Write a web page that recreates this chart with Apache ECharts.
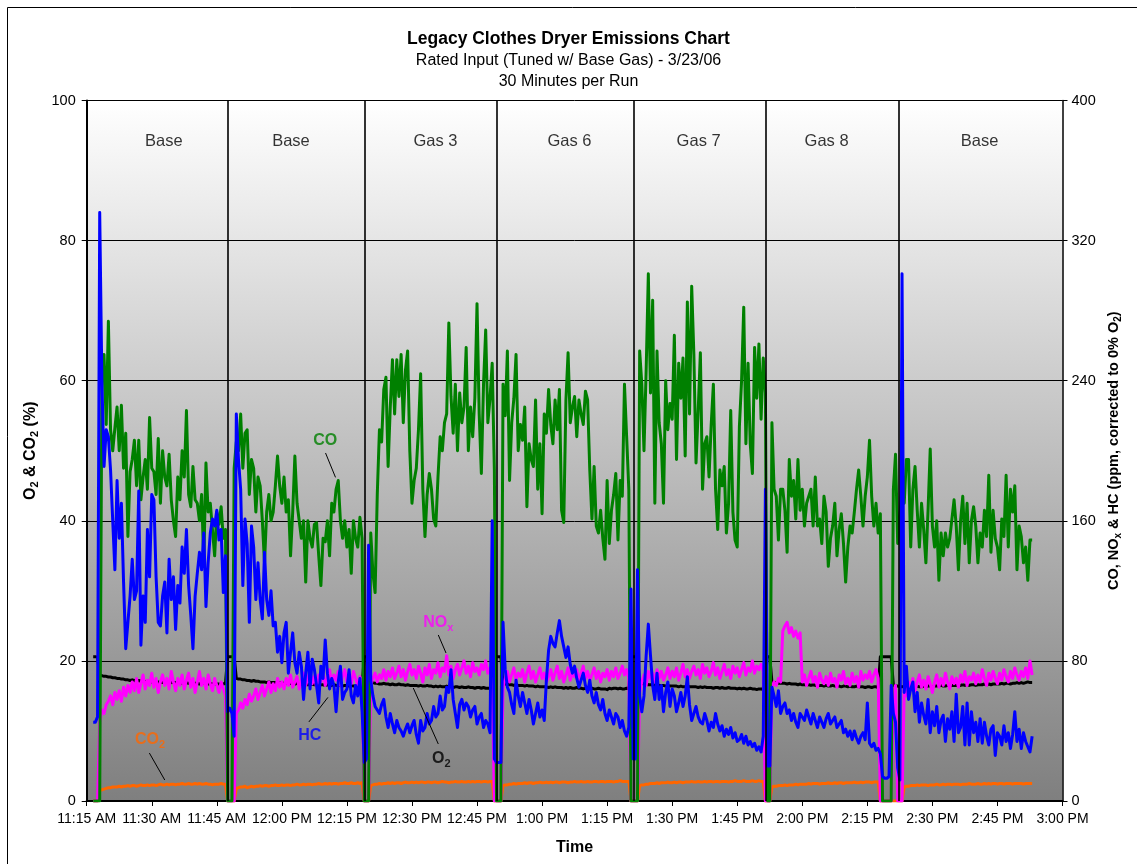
<!DOCTYPE html>
<html><head><meta charset="utf-8">
<script src="https://cdn.jsdelivr.net/npm/echarts@6/dist/echarts.min.js"></script>
<style>html,body{margin:0;padding:0;background:#fff}#c{width:1137px;height:864px}</style>
</head><body><div id="c"></div>
<script>
// ---- data (time in minutes after 11:15 AM; sampled every 0.5 min starting at 0.5) ----
const timeLabels = ['11:15 AM','11:30 AM','11:45 AM','12:00 PM','12:15 PM','12:30 PM','12:45 PM','1:00 PM','1:15 PM','1:30 PM','1:45 PM','2:00 PM','2:15 PM','2:30 PM','2:45 PM','3:00 PM'];
const runNames = ['Base','Base','Gas 3','Gas 6','Gas 7','Gas 8','Base'];
const runLabelAt = [17.8,47.1,80.4,111.3,141.1,170.6,205.9];
const runDividers = [32.45,64.2,94.5,126.2,156.5,187.25];
const T0 = 0.5, STEP = 0.5;

const co = [
null,null,0,0,0,0,240,255,215,274,
212,200,213,225,200,226,190,210,151,188,
195,206,180,206,172,185,195,178,219,190,
188,175,207,170,200,185,180,198,172,160,
151,185,172,200,185,223,175,168,191,172,
170,160,175,136,193,165,170,155,140,165,
158,168,150,155,0,0,0,190,205,200,
221,190,210,212,175,195,190,165,185,180,
160,136,165,175,160,165,180,197,180,170,
185,165,172,140,165,197,170,160,150,160,
125,160,150,145,158,159,140,123,150,148,
160,140,170,165,178,183,160,150,160,145,
155,130,160,150,145,162,150,0,0,0,
153,130,119,175,212,205,235,242,191,225,
252,221,252,231,255,216,246,257,200,170,
183,190,212,244,178,151,175,187,178,161,
157,185,208,200,216,221,273,231,210,238,
200,233,216,225,259,200,225,208,230,284,
221,187,238,269,216,230,250,189,0,0,
0,238,220,257,183,216,230,255,200,215,
206,225,168,204,195,191,229,178,204,164,
221,210,235,215,204,229,212,235,166,159,
229,256,216,225,231,208,229,221,215,234,
229,189,161,191,157,153,166,150,138,183,
147,166,175,187,149,183,174,238,208,178,
0,0,0,0,257,238,200,246,301,233,
286,170,257,216,204,170,240,212,227,218,
266,195,250,230,253,197,285,221,294,255,
193,223,256,178,204,208,185,215,238,178,
155,189,180,191,153,170,223,165,149,145,
214,240,282,204,250,204,187,259,230,261,
218,253,233,0,0,216,178,174,149,178,
178,166,142,195,174,183,161,195,166,178,
157,170,174,178,157,185,157,161,147,174,
165,134,150,157,170,140,155,164,147,125,
145,157,153,165,178,189,174,157,174,185,
206,174,157,170,153,164,0,0,0,0,
0,178,198,147,161,183,170,195,195,145,
178,191,166,145,170,155,136,166,201,157,
145,160,126,153,140,153,145,150,161,172,
157,132,160,174,147,170,136,160,168,157,
136,153,145,166,151,186,142,166,150,145,
132,161,151,186,145,178,165,180,132,157,
151,136,145,126,149,149,null,null,null,null];

const hc = [
null,null,45,45,48,336,240,191,212,208,
189,160,132,183,150,170,125,87,102,117,
138,115,120,177,89,117,102,155,128,175,
172,128,102,100,117,125,96,138,115,128,
98,123,113,145,130,155,123,106,87,117,
130,142,132,153,111,136,153,161,157,166,
149,155,119,140,51,53,50,37,221,195,
178,123,161,147,102,157,145,115,136,115,
104,142,115,106,120,100,102,85,94,79,
96,102,73,85,96,79,73,85,77,58,
73,85,64,81,75,66,56,77,70,92,
73,64,70,66,51,68,77,58,62,64,
75,60,56,66,60,70,51,22,24,146,
69,60,54,52,50,55,58,48,42,50,
44,39,46,42,40,37,41,44,39,43,
46,38,33,46,40,42,50,44,46,54,
48,50,60,52,54,65,62,75,58,50,
42,55,58,52,56,54,48,52,54,44,
48,50,42,46,44,39,160,24,22,22,
22,102,75,65,62,55,50,69,60,54,
62,56,50,58,52,44,50,56,48,52,
46,69,86,94,90,88,96,103,94,88,
82,88,78,73,77,70,65,69,73,66,
62,69,60,56,62,55,52,58,50,46,
52,48,44,50,48,42,46,40,37,42,
121,24,24,132,60,51,60,83,101,83,
66,58,73,58,66,51,62,68,54,64,
60,51,56,62,54,60,71,55,46,50,
54,48,45,44,50,46,40,45,42,50,
44,40,43,37,41,38,42,36,39,34,
35,38,33,37,32,34,31,33,29,31,
28,37,178,20,20,65,60,54,63,50,
54,56,50,52,46,50,45,42,50,48,
46,52,48,44,50,46,42,48,45,42,
47,50,44,46,48,42,44,46,39,41,
37,40,35,40,36,33,37,39,35,56,
33,31,33,29,30,27,14,13,13,14,
66,50,45,19,12,301,62,77,58,64,
68,51,62,45,56,49,44,58,39,51,
43,54,39,46,49,34,47,41,51,34,
61,39,42,54,32,56,32,51,39,45,
34,47,33,45,37,32,41,43,26,39,
37,32,43,34,39,30,38,51,34,41,
30,39,34,31,28,37,null,null,null,null];

const nox = [
null,null,0,0,0,45,52,50,55,57,
60,55,62,58,63,57,65,60,66,62,
68,63,70,62,67,72,64,69,66,73,
65,70,62,68,72,66,70,64,74,68,
63,70,66,72,64,69,73,65,70,62,
68,74,66,70,64,72,67,63,70,66,
62,68,64,60,0,0,0,0,50,52,
56,53,58,55,61,57,60,64,58,62,
66,60,64,68,62,67,63,70,65,68,
64,70,66,72,65,68,71,64,69,73,
66,70,74,67,71,65,72,68,74,66,
70,75,67,72,69,74,66,71,75,68,
72,67,74,70,66,71,68,0,0,0,
66,70,73,68,72,70,75,69,74,71,
76,70,73,77,71,75,69,74,78,72,
75,70,77,73,68,76,72,78,70,75,
73,79,71,76,74,83,72,77,70,75,
78,72,76,80,73,77,71,79,74,76,
72,78,75,80,73,76,72,0,0,0,
0,65,70,74,68,72,76,69,73,71,
75,68,73,77,70,74,68,72,76,70,
73,68,71,75,69,73,77,70,74,68,
72,76,69,73,71,75,68,73,77,70,
74,69,72,76,70,74,68,73,71,75,
69,74,71,76,70,73,77,72,75,70,
0,0,0,0,62,68,72,66,74,70,
73,68,75,70,74,69,72,76,70,74,
71,76,69,73,78,71,75,70,74,77,
72,75,70,78,73,76,71,74,79,72,
76,70,74,78,72,75,70,77,73,76,
71,75,79,72,76,74,80,73,77,75,
78,74,0,0,0,65,68,66,70,68,
97,100,102,96,99,94,97,93,96,68,
72,66,70,74,68,71,65,73,69,67,
71,66,73,68,70,65,72,69,74,67,
70,66,73,68,71,65,74,69,72,70,
74,68,72,75,70,0,0,0,0,0,
0,62,66,0,0,0,64,60,68,64,
70,63,68,72,65,69,64,71,67,62,
68,72,65,70,66,73,68,64,71,67,
70,65,72,68,74,66,71,69,73,67,
72,68,75,70,66,73,69,74,70,67,
73,69,75,71,68,74,70,76,72,69,
74,71,76,70,80,72,null,null,null,null];

const o2 = [
null,null,20.6,20.6,20.5,18.0,17.9,17.8,17.8,17.7,
17.7,17.6,17.6,17.5,17.5,17.4,17.4,17.3,17.3,17.2,
17.3,17.2,17.1,17.2,17.1,17.1,17.0,17.1,17.0,17.0,
17.0,16.9,17.0,16.9,16.9,17.0,16.9,16.8,16.9,16.9,
16.9,16.8,16.9,16.8,16.8,16.9,16.8,16.8,16.7,16.8,
16.8,16.7,16.8,16.8,16.7,16.7,16.8,16.7,16.7,16.7,
16.7,16.6,16.7,16.8,20.6,20.6,20.6,20.6,17.5,17.4,
17.4,17.3,17.3,17.2,17.2,17.1,17.2,17.1,17.1,17.0,
17.0,17.0,16.9,17.0,16.9,16.9,16.9,16.8,16.9,16.8,
16.8,16.8,16.7,16.8,16.7,16.7,16.8,16.7,16.7,16.6,
16.7,16.6,16.6,16.7,16.6,16.6,16.5,16.6,16.6,16.5,
16.6,16.5,16.5,16.6,16.5,16.5,16.5,16.4,16.5,16.5,
16.4,16.5,16.4,16.4,16.5,16.4,16.4,20.6,20.6,20.6,
17.0,16.9,16.8,16.8,16.7,16.7,16.8,16.7,16.7,16.6,
16.7,16.6,16.6,16.7,16.6,16.6,16.5,16.6,16.5,16.5,
16.5,16.5,16.4,16.5,16.4,16.4,16.5,16.4,16.4,16.3,
16.4,16.3,16.4,16.3,16.3,16.4,16.3,16.3,16.2,16.3,
16.3,16.2,16.3,16.2,16.2,16.3,16.2,16.2,16.1,16.2,
16.2,16.1,16.2,16.1,16.1,16.1,16.0,20.6,20.6,20.6,
20.6,16.8,16.7,16.7,16.6,16.6,16.5,16.6,16.5,16.5,
16.5,16.4,16.5,16.4,16.4,16.4,16.3,16.4,16.3,16.3,
16.3,16.3,16.2,16.3,16.2,16.3,16.2,16.2,16.2,16.1,
16.2,16.1,16.2,16.1,16.1,16.2,16.1,16.1,16.0,16.1,
16.1,16.0,16.1,16.0,16.0,16.1,16.0,16.0,16.0,15.9,
16.1,16.0,16.1,16.1,16.0,16.1,16.0,16.0,16.1,16.0,
20.6,20.6,20.6,20.6,16.9,16.8,16.7,16.7,16.6,16.6,
16.6,16.5,16.6,16.5,16.5,16.5,16.4,16.5,16.4,16.4,
16.4,16.4,16.3,16.4,16.3,16.3,16.4,16.3,16.3,16.3,
16.3,16.2,16.3,16.2,16.3,16.2,16.2,16.2,16.1,16.2,
16.2,16.1,16.2,16.1,16.1,16.2,16.1,16.1,16.1,16.0,
16.1,16.0,16.1,16.0,16.0,16.1,16.0,16.0,15.9,16.0,
16.0,15.9,20.6,20.6,20.6,17.0,16.9,16.9,16.8,16.8,
16.8,16.8,16.7,16.8,16.7,16.7,16.7,16.6,16.7,16.6,
16.6,16.6,16.6,16.5,16.6,16.5,16.5,16.5,16.5,16.4,
16.5,16.4,16.4,16.5,16.4,16.4,16.4,16.3,16.4,16.4,
16.3,16.4,16.3,16.3,16.4,16.3,16.3,16.3,16.2,16.3,
16.3,16.2,16.3,16.3,16.2,20.6,20.6,20.6,20.6,20.6,
20.6,16.5,16.4,16.4,16.3,16.3,16.4,16.3,16.4,16.3,
16.3,16.3,16.4,16.3,16.3,16.4,16.3,16.4,16.4,16.3,
16.4,16.4,16.4,16.5,16.4,16.4,16.5,16.4,16.5,16.5,
16.5,16.5,16.5,16.6,16.5,16.6,16.5,16.6,16.6,16.5,
16.6,16.6,16.6,16.7,16.6,16.7,16.6,16.7,16.7,16.7,
16.7,16.8,16.7,16.8,16.8,16.7,16.8,16.8,16.9,16.8,
16.9,16.8,16.9,17.0,16.9,16.9,null,null,null,null];

const co2 = [
null,null,0,0,0,1.5,1.6,1.7,1.8,1.9,
1.9,2.0,2.0,2.0,2.1,2.0,2.1,2.1,2.2,2.1,
2.2,2.2,2.1,2.2,2.3,2.2,2.2,2.3,2.2,2.3,
2.3,2.2,2.3,2.4,2.3,2.3,2.4,2.3,2.4,2.4,
2.3,2.4,2.4,2.5,2.4,2.4,2.5,2.4,2.4,2.5,
2.4,2.5,2.4,2.4,2.5,2.4,2.4,2.3,2.4,2.4,
2.4,2.5,2.4,2.4,0,0,0,0,1.8,1.9,
2.0,2.0,2.1,1.9,2.0,2.1,2.0,2.1,2.1,2.2,
2.1,2.2,2.2,2.1,2.2,2.2,2.3,2.2,2.2,2.3,
2.2,2.3,2.3,2.2,2.3,2.3,2.4,2.3,2.3,2.4,
2.3,2.4,2.4,2.3,2.4,2.4,2.5,2.4,2.4,2.5,
2.4,2.5,2.4,2.5,2.5,2.4,2.5,2.5,2.6,2.5,
2.5,2.6,2.5,2.5,2.6,2.5,2.6,0,0,0,
2.2,2.3,2.4,2.4,2.5,2.4,2.5,2.5,2.6,2.5,
2.6,2.5,2.6,2.6,2.5,2.6,2.7,2.6,2.6,2.7,
2.6,2.7,2.6,2.7,2.7,2.6,2.7,2.7,2.6,2.7,
2.7,2.6,2.7,2.8,2.7,2.7,2.6,2.7,2.7,2.8,
2.7,2.7,2.8,2.7,2.7,2.8,2.7,2.8,2.7,2.8,
2.8,2.7,2.8,2.8,2.7,2.8,2.8,0,0,0,
0,2.2,2.3,2.3,2.4,2.4,2.5,2.4,2.5,2.5,
2.5,2.6,2.5,2.6,2.6,2.5,2.6,2.6,2.7,2.6,
2.6,2.7,2.6,2.7,2.6,2.7,2.7,2.6,2.7,2.7,
2.7,2.6,2.7,2.7,2.8,2.7,2.7,2.8,2.7,2.7,
2.8,2.7,2.7,2.8,2.8,2.7,2.8,2.8,2.7,2.8,
2.8,2.8,2.7,2.8,2.8,2.9,2.8,2.8,2.8,2.8,
0,0,0,0,2.2,2.3,2.3,2.4,2.4,2.5,
2.5,2.5,2.6,2.5,2.6,2.6,2.6,2.7,2.6,2.6,
2.7,2.6,2.7,2.7,2.6,2.7,2.7,2.7,2.8,2.7,
2.7,2.8,2.7,2.7,2.8,2.7,2.8,2.8,2.7,2.8,
2.8,2.7,2.8,2.8,2.8,2.7,2.8,2.8,2.9,2.8,
2.8,2.8,2.9,2.8,2.8,2.8,2.9,2.8,2.8,2.9,
2.8,2.8,0,0,0,2.0,2.1,2.1,2.2,2.2,
2.2,2.3,2.2,2.3,2.3,2.3,2.4,2.3,2.4,2.4,
2.4,2.4,2.5,2.4,2.5,2.5,2.5,2.4,2.5,2.5,
2.5,2.6,2.5,2.5,2.6,2.5,2.6,2.6,2.5,2.6,
2.6,2.6,2.6,2.7,2.6,2.6,2.7,2.6,2.7,2.7,
2.7,2.6,2.7,2.7,2.7,0,0,0,0,0,
0,0,0,0,0,0,2.0,2.1,2.1,2.2,
2.2,2.2,2.3,2.2,2.3,2.3,2.3,2.2,2.3,2.3,
2.3,2.4,2.3,2.3,2.4,2.3,2.4,2.4,2.3,2.4,
2.4,2.4,2.3,2.4,2.4,2.4,2.5,2.4,2.4,2.4,
2.5,2.4,2.4,2.5,2.4,2.5,2.4,2.5,2.5,2.4,
2.5,2.5,2.4,2.5,2.5,2.5,2.4,2.5,2.5,2.5,
2.5,2.4,2.5,2.5,2.5,2.5,null,null,null,null];

// annotation anchors in data units (minutes, left-axis %)
const noteAt = [[55.0,51.4],[81.07,25.41],[51.42,9.34],[81.77,6.0],[14.6,8.7]];
const noteText = ['{m|CO}','{m|NO}{s|x}','{m|HC}','{m|O}{s|2}','{m|CO}{s|2}'];
const noteColor = ['#008000','#ff00ff','#0000ff','#000000','#ff6600'];
const leaders = [[55.07,49.68,57.37,46.2],[81.07,23.7,82.85,21.13],[51.23,11.29,55.62,14.79],[75.3,16.13,81.07,8.14],[14.45,6.85,18.0,3.0]];

const FONT = "'Liberation Sans', Arial, sans-serif";
const pts = arr => arr.map((v,i) => [T0 + STEP*i, v]);
const sub = (fs, lh) => ({m:{fontSize:fs, fontWeight:'bold', lineHeight:lh, fontFamily:FONT}, s:{fontSize:Math.round(fs*0.68), fontWeight:'bold', lineHeight:lh/2, verticalAlign:'bottom', fontFamily:FONT}});

const chart = echarts.init(document.getElementById('c'), null, {renderer:'canvas'});
function line(name, data, color, yi, w){
  return {name, type:'line', data:pts(data), yAxisIndex:yi, showSymbol:false, symbol:'none', sampling:null,
    lineStyle:{color, width:w, join:'round'}, itemStyle:{color}, silent:true, z:2};
}
const o2S = line('O2', o2, '#000000', 0, 3);
o2S.markLine = {silent:true, symbol:'none', label:{show:false}, lineStyle:{color:'#000', width:1.6, type:'solid'},
  data: runDividers.map(x => ({xAxis:x}))};

chart.setOption({
  animation:false,
  backgroundColor:'#ffffff',
  textStyle:{fontFamily:FONT},
  title:[
    {text:'Legacy Clothes Dryer Emissions Chart', left:'center', top:24, textStyle:{fontSize:17.5, fontWeight:'bold', color:'#000', fontFamily:FONT, lineHeight:20}},
    {text:'Rated Input (Tuned w/ Base Gas) - 3/23/06', left:'center', top:46, textStyle:{fontSize:16, fontWeight:'normal', color:'#000', fontFamily:FONT, lineHeight:20}},
    {text:'30 Minutes per Run', left:'center', top:67, textStyle:{fontSize:16, fontWeight:'normal', color:'#000', fontFamily:FONT, lineHeight:20}}
  ],
  grid:{left:86.7, right:74.5, top:100.5, bottom:63, show:true, borderWidth:0,
    backgroundColor:new echarts.graphic.LinearGradient(0,0,0,1,[{offset:0,color:'#ffffff'},{offset:1,color:'#7f7f7f'}])},
  xAxis:{type:'value', min:0, max:225, interval:15,
    name:'Time', nameLocation:'middle', nameGap:39,
    nameTextStyle:{fontSize:16, fontWeight:'bold', color:'#000', fontFamily:FONT},
    axisLine:{onZero:false, lineStyle:{color:'#000', width:2}},
    axisTick:{show:true, length:5, lineStyle:{color:'#000', width:1}},
    axisLabel:{color:'#000', fontSize:14, margin:11, fontFamily:FONT, formatter:v => timeLabels[Math.round(v/15)] || ''},
    splitLine:{show:false}},
  yAxis:[
    {type:'value', min:0, max:100, interval:20, position:'left',
      name:'{m|O}{s|2}{m| & CO}{s|2}{m| (%)}', nameLocation:'middle', nameGap:44, nameRotate:90,
      nameTextStyle:{color:'#000', rich:sub(16,20)},
      axisLine:{show:true, lineStyle:{color:'#000', width:2}},
      axisTick:{show:true, length:5, lineStyle:{color:'#000'}},
      axisLabel:{color:'#000', fontSize:14.5, margin:11, fontFamily:FONT},
      splitLine:{show:true, lineStyle:{color:'#000', width:1}}},
    {type:'value', min:0, max:400, interval:80, position:'right',
      name:'{m|CO, NO}{s|x}{m| & HC (ppm, corrected to 0% O}{s|2}{m|)}', nameLocation:'middle', nameGap:42, nameRotate:90,
      nameTextStyle:{color:'#000', rich:sub(14.5,18)},
      axisLine:{show:true, lineStyle:{color:'#000', width:1.5}},
      axisTick:{show:true, length:5, lineStyle:{color:'#000'}},
      axisLabel:{color:'#000', fontSize:14.5, margin:9, fontFamily:FONT},
      splitLine:{show:false}}
  ],
  series:[
    o2S,
    line('CO2', co2, '#ff6600', 0, 3),
    line('NOx', nox, '#ff00ff', 1, 3),
    line('CO', co, '#008000', 1, 3),
    line('HC', hc, '#0000ff', 1, 3),
    {name:'runs', type:'scatter', yAxisIndex:0, symbolSize:0, silent:true, z:5,
      data: runLabelAt.map((x,i) => ({value:[x, 94.2], name:runNames[i]})),
      label:{show:true, position:'inside', formatter:p => p.name, color:'#000', fontSize:16.5, fontFamily:FONT}},
    {name:'notes', type:'scatter', yAxisIndex:0, symbolSize:0, silent:true, z:6,
      data: noteAt.map((p,i) => ({value:p, label:{show:true, position:'inside', formatter:noteText[i], color:noteColor[i], rich:sub(16,20)}})),
      markLine:{silent:true, symbol:'none', label:{show:false}, lineStyle:{color:'#000', width:1, type:'solid'},
        data: leaders.map(l => [{coord:[l[0], l[1]]}, {coord:[l[2], l[3]]}])}}
  ],
  graphic:[{type:'rect', silent:true, shape:{x:7.5, y:7.5, width:1200, height:1000}, style:{fill:'none', stroke:'#000', lineWidth:1}}]
});
</script></body></html>
